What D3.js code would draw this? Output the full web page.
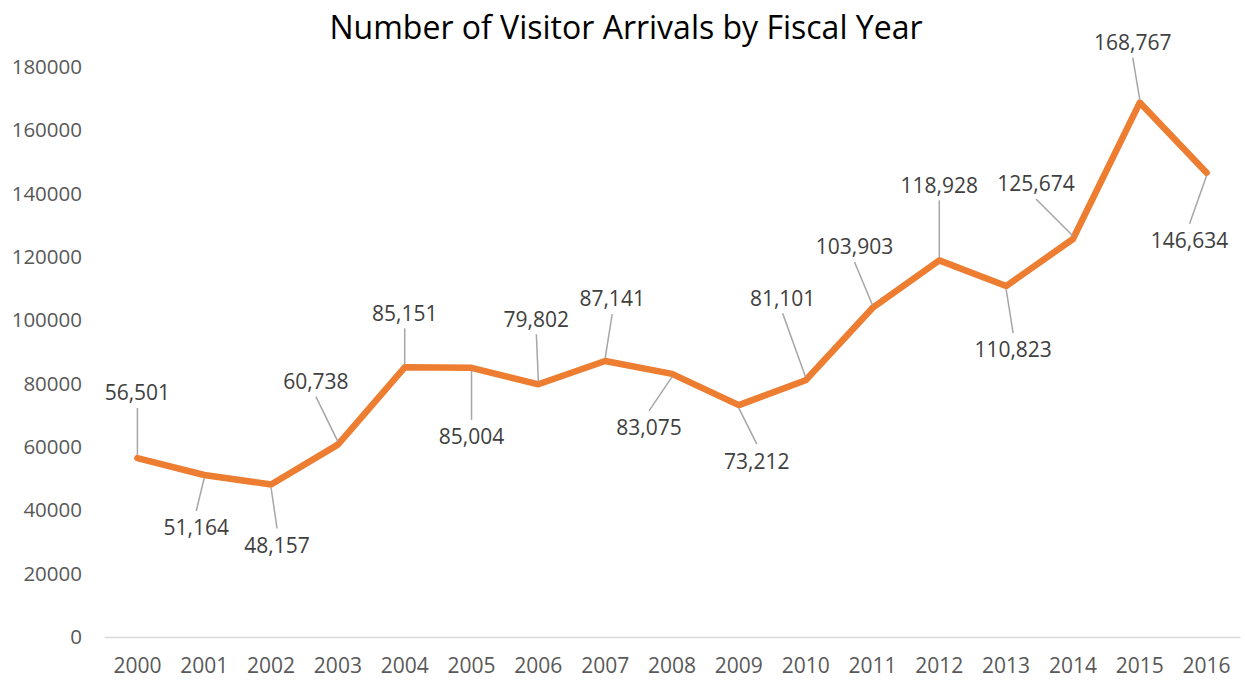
<!DOCTYPE html>
<html>
<head>
<meta charset="utf-8">
<script src="https://cdn.jsdelivr.net/npm/d3@7"></script>
<style>
  body { margin: 0; background: #fff; }
  svg text { font-family: "Open Sans", "Noto Sans", sans-serif; }
</style>
</head>
<body>
<div id="chart-area"></div>
<script>
// chart data
var years = ["2000", "2001", "2002", "2003", "2004", "2005", "2006", "2007", "2008",
             "2009", "2010", "2011", "2012", "2013", "2014", "2015", "2016"];
var arrivals = [56501, 51164, 48157, 60738, 85151, 85004, 79802, 87141, 83075,
                73212, 81101, 103903, 118928, 110823, 125674, 168767, 146634];
var yTicks = [0, 20000, 40000, 60000, 80000, 100000, 120000, 140000, 160000, 180000];

// where each data label sits relative to its point (layout only)
var labelDx = [0, -8, 6, -22, 0, 0, -2, 7, -23, 18, -23, -18, 0, 7, -37, -7, -17];
var labelDy = [-65, 53, 61, -63, -54, 69, -65, -62, 54, 56, -82, -61, -75, 64, -55, -60, 68];

var W = 1245, H = 680;
var margins = { left: 104, right: 5, top: 67, bottom: 43 };
var width = W - margins.left - margins.right;
var height = H - margins.top - margins.bottom;

var svg = d3.select("#chart-area").append("svg")
    .attr("width", W)
    .attr("height", H);

var g = svg.append("g")
    .attr("transform", "translate(" + margins.left + "," + margins.top + ")");

// title
svg.append("text")
    .attr("x", 626)
    .attr("y", 39)
    .attr("text-anchor", "middle")
    .attr("font-size", "32px")
    .attr("fill", "#000")
    .text("Number of Visitor Arrivals by Fiscal Year");

var x = d3.scaleBand()
    .domain(years)
    .range([0, width]);

var y = d3.scaleLinear()
    .domain([0, 180000])
    .range([height, 0]);

// y axis labels (no line, no ticks)
var yAxis = g.append("g")
    .call(d3.axisLeft(y).tickValues(yTicks).tickSize(0).tickPadding(22).tickFormat(d3.format("d")));
yAxis.select(".domain").remove();
yAxis.selectAll("text").attr("font-size", "20.5px").attr("fill", "#595959");

// x axis
var xAxis = g.append("g")
    .attr("transform", "translate(0," + height + ")")
    .call(d3.axisBottom(x).tickSize(0).tickPadding(21));
xAxis.select(".domain").attr("stroke", "#d9d9d9").attr("stroke-width", 1.3);
xAxis.selectAll("text").attr("font-size", "21px").attr("fill", "#595959");

var cx = function(i){ return x(years[i]) + x.bandwidth() / 2; };

// line
var line = d3.line()
    .x(function(d, i){ return cx(i); })
    .y(function(d){ return y(d); });

g.append("path")
    .datum(arrivals)
    .attr("d", line)
    .attr("fill", "none")
    .attr("stroke", "#ED7D31")
    .attr("stroke-width", 6.5)
    .attr("stroke-linejoin", "round")
    .attr("stroke-linecap", "round");

// leader lines
g.selectAll(".leader")
    .data(arrivals)
    .enter()
    .append("line")
    .attr("class", "leader")
    .attr("x1", function(d, i){ return cx(i) + labelDx[i]; })
    .attr("y1", function(d, i){ return y(d) + labelDy[i] + (labelDy[i] < 0 ? 15 : -17); })
    .attr("x2", function(d, i){ return cx(i); })
    .attr("y2", function(d, i){ return y(d) + (labelDy[i] < 0 ? -3 : 3); })
    .attr("stroke", "#a6a6a6")
    .attr("stroke-width", 1.5);

// data labels
var fmt = d3.format(",");
g.selectAll(".label")
    .data(arrivals)
    .enter()
    .append("text")
    .attr("class", "label")
    .attr("x", function(d, i){ return cx(i) + labelDx[i]; })
    .attr("y", function(d, i){ return y(d) + labelDy[i]; })
    .attr("dy", "0.35em")
    .attr("text-anchor", "middle")
    .attr("font-size", "21px")
    .attr("fill", "#404040")
    .text(function(d){ return fmt(d); });
</script>
</body>
</html>
